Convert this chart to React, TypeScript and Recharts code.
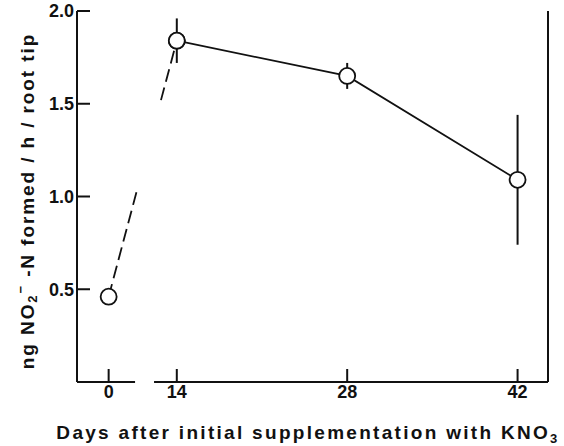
import { LineChart, Line, XAxis, YAxis, ErrorBar, ReferenceLine } from "recharts";

// values
const days = [0, 14, 28, 42];
const nitriteRate = [0.46, 1.84, 1.65, 1.09];
const stdError = [null, 0.12, 0.07, 0.35];
const bottomTickDays = [0, 14, 28, 42];
const topTickDays = [0, 28, 42];
const yTicks = [0.5, 1.0, 1.5, 2.0];

// layout
const W = 564;
const H = 446;
const TOP = 11;
const LEFT_W = 77;
const RIGHT_W = 16;
const BOTTOM_H = 64;
const X_DOMAIN: [number, number] = [5.8, 44.5];
const Y_DOMAIN: [number, number] = [0, 2];
const DAY0_POS = 8.4; // day 0 sits left of the axis break
const AXIS_BREAK: [number, number] = [10.57, 12.13];
const DASH_GAP: [number, number] = [10.73, 12.7];
const FONT = '"Liberation Sans", Arial, Helvetica, sans-serif';
const INK = "#111";

const xPos = (d: number) => (d === 0 ? DAY0_POS : d);

const data = days.map((d, i) => ({
  pos: xPos(d),
  dashed: i <= 1 ? nitriteRate[i] : null,
  solid: i >= 1 ? nitriteRate[i] : null,
  err: stdError[i],
}));

// dash pattern for the 0 -> 14 link, with the piece across the break left out
const plotW = W - LEFT_W - RIGHT_W;
const plotH = H - TOP - BOTTOM_H;
const px = (v: number) => LEFT_W + ((v - X_DOMAIN[0]) / (X_DOMAIN[1] - X_DOMAIN[0])) * plotW;
const py = (v: number) => TOP + (1 - (v - Y_DOMAIN[0]) / (Y_DOMAIN[1] - Y_DOMAIN[0])) * plotH;

function linkDash(dash = 13, space = 6) {
  const x0 = px(DAY0_POS), y0 = py(nitriteRate[0]);
  const x1 = px(days[1]), y1 = py(nitriteRate[1]);
  const len = Math.hypot(x1 - x0, y1 - y0);
  const from = ((px(DASH_GAP[0]) - x0) / (x1 - x0)) * len;
  const to = ((px(DASH_GAP[1]) - x0) / (x1 - x0)) * len;
  const parts: number[] = [];
  let at = 0;
  while (at + dash <= from) {
    parts.push(dash, space);
    at += dash + space;
  }
  parts[parts.length - 1] += to - at;
  at = to;
  while (at < len + dash) {
    parts.push(dash, space);
    at += dash + space;
  }
  return parts.map((p) => p.toFixed(1)).join(" ");
}

const circle = { r: 8, fill: "#fff", stroke: INK, strokeWidth: 1.8, strokeDasharray: "none" };
const tickText = { fontFamily: FONT, fontWeight: 700, fontSize: 18, fill: INK };

const LeftTick = ({ x, y, payload }: any) => (
  <g>
    <line x1={x} x2={x + 13} y1={y} y2={y} stroke={INK} strokeWidth={2} />
    <text x={x - 3} y={y} dy="0.36em" textAnchor="end" {...tickText}>
      {Number(payload.value).toFixed(1)}
    </text>
  </g>
);

const RightTick = ({ x, y }: any) => (
  <line x1={x} x2={x - 14} y1={y} y2={y} stroke={INK} strokeWidth={2} />
);

const BottomTick = ({ x, y, payload }: any) => {
  const label = days[data.findIndex((r) => r.pos === payload.value)];
  return (
    <g>
      <line x1={x} x2={x} y1={y} y2={y - 13} stroke={INK} strokeWidth={2} />
      <text x={x} y={y + 16} textAnchor="middle" {...tickText}>
        {label}
      </text>
    </g>
  );
};

const TopTick = ({ x, y }: any) => (
  <line x1={x} x2={x} y1={y} y2={y + 11} stroke={INK} strokeWidth={2} />
);

const titleText = { fontFamily: FONT, fontWeight: 700, fontSize: 19, fill: INK };

const XTitle = () => (
  <text x={308} y={439} textAnchor="middle" letterSpacing={2.3} {...titleText}>
    Days after initial supplementation with KNO
    <tspan fontSize={13} dy={4}>3</tspan>
  </text>
);

const YTitle = () => (
  <text transform="translate(34,201) rotate(-90)" textAnchor="middle" letterSpacing={1.9} {...titleText}>
    ng NO
    <tspan fontSize={13} dy={3}>2</tspan>
    <tspan fontSize={13} dy={-12}>−</tspan>
    <tspan dy={9}> -N formed / h / root tip</tspan>
  </text>
);

export default function App() {
  return (
    <div style={{ position: "absolute", left: 0, top: 0, width: W, height: H, background: "#fff" }}>
      <LineChart width={W} height={H} data={data} margin={{ top: TOP, right: 0, bottom: 0, left: 0 }}>
        <XAxis
          dataKey="pos"
          type="number"
          domain={X_DOMAIN}
          ticks={bottomTickDays.map(xPos)}
          interval={0}
          height={BOTTOM_H}
          axisLine={false}
          tickLine={false}
          tickSize={0}
          tickMargin={0}
          tick={<BottomTick />}
          label={{ content: () => <XTitle /> }}
        />
        <XAxis
          xAxisId="top"
          orientation="top"
          dataKey="pos"
          type="number"
          domain={X_DOMAIN}
          ticks={topTickDays.map(xPos)}
          interval={0}
          height={0}
          axisLine={{ stroke: INK, strokeWidth: 2 }}
          tickLine={false}
          tickSize={0}
          tickMargin={0}
          tick={<TopTick />}
        />
        <YAxis
          type="number"
          domain={Y_DOMAIN}
          ticks={yTicks}
          interval={0}
          width={LEFT_W}
          axisLine={{ stroke: INK, strokeWidth: 2 }}
          tickLine={false}
          tickSize={0}
          tickMargin={0}
          tick={<LeftTick />}
          label={{ content: () => <YTitle /> }}
        />
        <YAxis
          yAxisId="right"
          orientation="right"
          type="number"
          domain={Y_DOMAIN}
          ticks={yTicks}
          interval={0}
          width={RIGHT_W}
          axisLine={{ stroke: INK, strokeWidth: 2 }}
          tickLine={false}
          tickSize={0}
          tickMargin={0}
          tick={<RightTick />}
        />
        <ReferenceLine
          segment={[{ x: X_DOMAIN[0], y: 0 }, { x: AXIS_BREAK[0], y: 0 }]}
          stroke={INK}
          strokeWidth={2}
        />
        <ReferenceLine
          segment={[{ x: AXIS_BREAK[1], y: 0 }, { x: X_DOMAIN[1], y: 0 }]}
          stroke={INK}
          strokeWidth={2}
        />
        <Line
          dataKey="dashed"
          stroke={INK}
          strokeWidth={1.8}
          strokeDasharray={linkDash()}
          dot={circle}
          activeDot={false}
          isAnimationActive={false}
        />
        <Line
          dataKey="solid"
          stroke={INK}
          strokeWidth={1.7}
          dot={circle}
          activeDot={false}
          isAnimationActive={false}
        >
          <ErrorBar dataKey="err" width={0} stroke={INK} strokeWidth={2} direction="y" />
        </Line>
      </LineChart>
    </div>
  );
}
